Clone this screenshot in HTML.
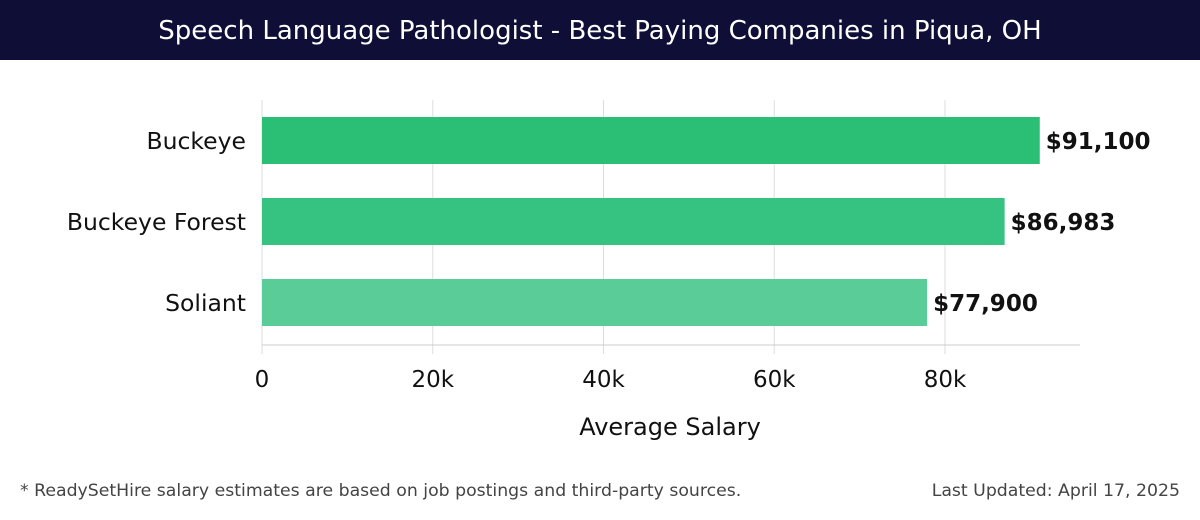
<!DOCTYPE html>
<html><head><meta charset="utf-8"><style>
body{margin:0;width:1200px;height:520px;background:#fff;overflow:hidden;font-family:"DejaVu Sans","Liberation Sans",sans-serif}
#title{position:absolute;left:0;top:0;width:1200px;height:60px;background:#0e0e36;color:#fff;font-size:26px;text-align:center;line-height:62px}
svg{position:absolute;left:0;top:0;font-family:"DejaVu Sans","Liberation Sans",sans-serif}
.ft{position:absolute;top:481px;font-size:17.3px;color:#444}
</style></head><body>
<div id="title">Speech Language Pathologist - Best Paying Companies in Piqua, OH</div>
<svg id="chart" width="1200" height="520"></svg>
<div class="ft" style="left:20px">* ReadySetHire salary estimates are based on job postings and third-party sources.</div>
<div class="ft" style="right:20px">Last Updated: April 17, 2025</div>
<script>
const categories=["Buckeye","Buckeye Forest","Soliant"];
const values=[91100,86983,77900];
const valueLabels=["$91,100","$86,983","$77,900"];
const tickValues=[0,20000,40000,60000,80000];
const tickLabels=["0","20k","40k","60k","80k"];
const colors=["#2bbf76","#36c281","#5acc98"];
const svg=document.getElementById('chart');const NS="http://www.w3.org/2000/svg";
const x0=262,pxPer=(945-262)/80000;
const X=v=>x0+v*pxPer;
const Y=i=>117+i*81;
function mk(t,a,txt){const e=document.createElementNS(NS,t);for(const k in a)e.setAttribute(k,a[k]);if(txt!==undefined)e.textContent=txt;svg.appendChild(e);return e;}
tickValues.forEach((v,i)=>{
 const g=mk('line',{x1:X(v),x2:X(v),y1:100,y2:354,stroke:'#ddd','stroke-width':1});
 
 
 const t=mk('text',{x:X(v),y:387,'text-anchor':'middle','font-size':23,fill:'#111'},tickLabels[i]);
 
 
});
const ax=mk('line',{x1:262,x2:1080,y1:345,y2:345,stroke:'#ccc','stroke-width':1});


categories.forEach((c,i)=>{
 const r=mk('rect',{x:x0,y:Y(i),width:X(values[i])-x0,height:47,fill:colors[i]});
 
 
 const l=mk('text',{x:246,y:Y(i)+32,'text-anchor':'end','font-size':23.5,fill:'#111'},c);
 
 
 const v=mk('text',{x:X(values[i])+6,y:Y(i)+32,'font-size':23,'font-weight':'bold',fill:'#111'},valueLabels[i]);
 
 
});
const xt=mk('text',{x:670,y:435,'text-anchor':'middle','font-size':24,fill:'#111'},'Average Salary');


</script>
</body></html>
